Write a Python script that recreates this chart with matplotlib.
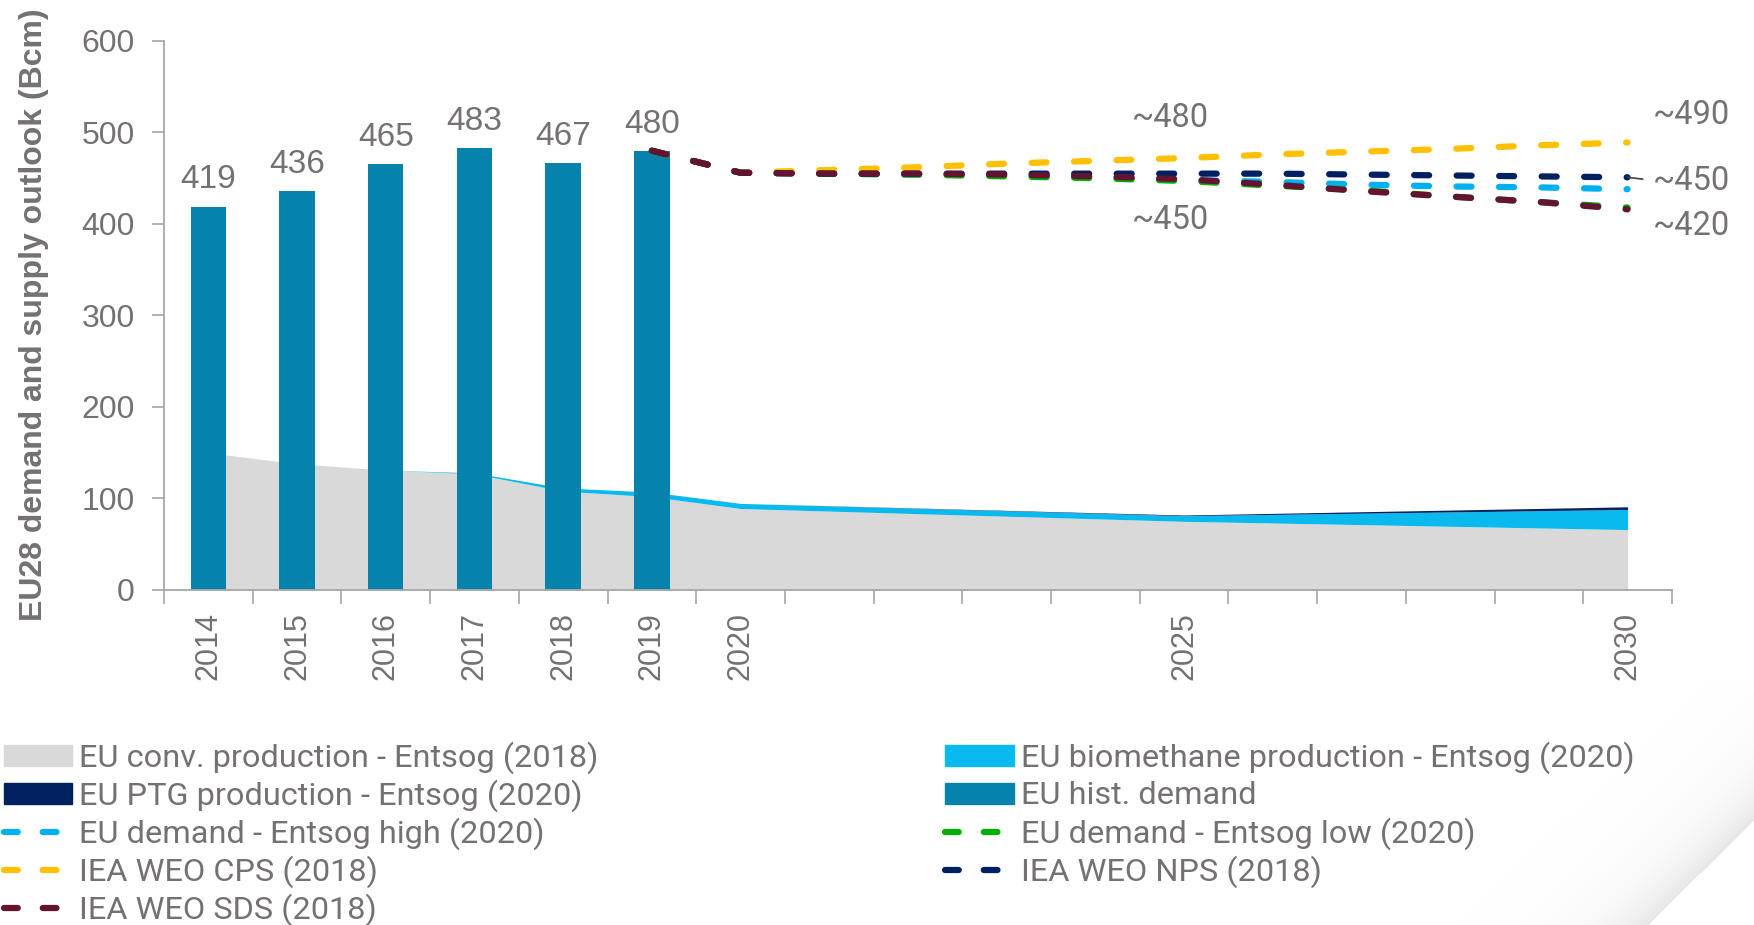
import numpy as np
import matplotlib
matplotlib.use("Agg")
import matplotlib.pyplot as plt
from matplotlib.patches import Patch
from matplotlib.lines import Line2D

# categories on the x axis
years = list(range(2014, 2031))
shown_years = [2014, 2015, 2016, 2017, 2018, 2019, 2020, 2025, 2030]

# historic demand (Bcm)
hist_years = [2014, 2015, 2016, 2017, 2018, 2019]
hist_demand = [419, 436, 465, 483, 467, 480]

# supply side (stacked areas)
prod_years = [2014, 2015, 2016, 2017, 2018, 2019, 2020, 2025, 2030]
conv_prod = [150, 138, 131, 127, 108, 102, 89, 75, 66]
biomethane = [0, 0, 0, 1, 3.5, 5, 5.6, 6.2, 22]
ptg = [0, 0, 0, 0, 0, 0, 0, 0.7, 2.9]

# demand outlooks
out_years = list(range(2019, 2031))
entsog_high = [480, 456, 455, 454, 453, 451, 448, 446, 443, 441, 440, 438]
entsog_low = [480, 456, 455, 454, 452, 450, 447, 442, 437, 430, 424, 418]
weo_cps = [480, 456, 459, 462, 466, 469, 472, 476, 479, 482, 486, 489]
weo_nps = [480, 456, 455, 455, 455, 455, 455, 455, 454, 453, 452, 451]
weo_sds = [480, 456, 455, 455, 454, 452, 449, 443, 436, 430, 424, 416]

TXT = "#767171"
AXC = "#A6A6A6"
C_BAR = "#0583AC"
C_CONV = "#D9D9D9"
C_BIO = "#0ABAEE"
C_PTG = "#002060"
C_HIGH = "#00B0F0"
C_LOW = "#00B000"
C_CPS = "#FFC000"
C_NPS = "#002060"
C_SDS = "#641432"


def xi(y):
    return [years.index(v) for v in y] if isinstance(y, list) else years.index(y)


fig = plt.figure(figsize=(17.54, 9.25), dpi=100)
ax = fig.add_axes([0.0935, 0.3622, 0.8597, 0.5935])

# stacked supply areas
px = xi(prod_years)
base = np.array(conv_prod, float)
top = base + np.array(biomethane)
ax.fill_between(px, 0, base, color=C_CONV, lw=0, zorder=1)
ax.fill_between(px, base, top, color=C_BIO, lw=0, zorder=1)
ax.fill_between(px, top, top + np.array(ptg), color=C_PTG, lw=0, zorder=1)

# historic demand bars
bx = xi(hist_years)
ax.bar(bx, hist_demand, width=0.4, color=C_BAR, zorder=2)
for x, v in zip(bx, hist_demand):
    ax.annotate(str(v), (x, v), xytext=(0, 8), textcoords="offset points",
                ha="center", va="bottom", fontsize=24, color=TXT,
                family="Liberation Sans")

# outlook lines
ox = xi(out_years)
dash = (2.4, 4.4)
lines = [(entsog_high, C_HIGH), (entsog_low, C_LOW), (weo_cps, C_CPS),
         (weo_nps, C_NPS), (weo_sds, C_SDS)]
for vals, c in lines:
    ax.plot(ox, vals, color=c, lw=4.5, dashes=dash, dash_capstyle="round",
            zorder=3)

# annotations
tf = dict(fontsize=23.5, color=TXT, family="Roboto", va="center")
ax.text(10.85, 516, "~480", ha="center", **tf)
ax.text(10.85, 404, "~450", ha="center", **tf)
ax.text(16.29, 519, "~490", ha="left", clip_on=False, **tf)
ax.text(16.29, 447, "~450", ha="left", clip_on=False, **tf)
ax.text(16.29, 398, "~420", ha="left", clip_on=False, **tf)
ax.plot([16, 16.17], [451, 449], color="#404040", lw=1.2, clip_on=False, zorder=4)

# axes styling
ax.set_xlim(-0.5, 16.5)
ax.set_ylim(0, 600)
ax.set_yticks(range(0, 601, 100))
ax.set_xticks(xi(shown_years))
ax.set_xticklabels([str(y) for y in shown_years], rotation=90)
ax.set_xticks(np.arange(-0.5, 17, 1), minor=True)
ax.tick_params(axis="x", which="major", length=0, pad=16, labelsize=22,
               labelcolor=TXT)
ax.tick_params(axis="x", which="minor", length=10, width=1.2, color=AXC,
               direction="out")
ax.tick_params(axis="y", length=9, width=1.2, color=AXC, labelsize=23,
               labelcolor=TXT, pad=12)
for lab in ax.get_xticklabels() + ax.get_yticklabels():
    lab.set_family("Liberation Sans")
for s in ["top", "right"]:
    ax.spines[s].set_visible(False)
for s in ["left", "bottom"]:
    ax.spines[s].set_color(AXC)
    ax.spines[s].set_linewidth(1.3)

fig.text(0.0195, 0.66, "EU28 demand and supply outlook (Bcm)", rotation=90,
         ha="center", va="center", fontsize=23, fontweight="bold",
         color=TXT, family="Liberation Sans")


# legend: two columns, one entry per row so the rows line up
def dline(c):
    return Line2D([], [], color=c, lw=4.5, dashes=(2.2, 4.0),
                  dash_capstyle="round")


left_items = [
    (Patch(color=C_CONV), "EU conv. production - Entsog (2018)"),
    (Patch(color=C_PTG), "EU PTG production - Entsog (2020)"),
    (dline(C_HIGH), "EU demand - Entsog high (2020)"),
    (dline(C_CPS), "IEA WEO CPS (2018)"),
    (dline(C_SDS), "IEA WEO SDS (2018)"),
]
right_items = [
    (Patch(color=C_BIO), "EU biomethane production - Entsog (2020)"),
    (Patch(color=C_BAR), "EU hist. demand"),
    (dline(C_LOW), "EU demand - Entsog low (2020)"),
    (dline(C_NPS), "IEA WEO NPS (2018)"),
]
row_y = [758, 796, 834, 872, 910]
lkw = dict(frameon=False, handlelength=2.1, handleheight=0.62,
           handletextpad=0.22, borderpad=0, borderaxespad=0,
           prop={"family": "Roboto", "size": 23.4}, labelcolor=TXT,
           loc="center left")
for col_x, items in [(0.002, left_items), (0.539, right_items)]:
    for (h, t), ry in zip(items, row_y):
        fig.legend([h], [t], bbox_to_anchor=(col_x, 1 - ry / 925), **lkw)

# soft page-curl shadow in the lower right corner
x0, x1, y0, y1 = 1450, 1754, 680, 925
sh = fig.add_axes([x0 / 1754, 0, (x1 - x0) / 1754, (y1 - y0) / 925])
sh.set_axis_off()
gx, gy = np.meshgrid(np.arange(x0, x1), np.arange(y0, y1))
p1 = np.array([1647.0, 925.0])
p2 = np.array([1754.0, 820.0])
u = (p2 - p1) / np.hypot(*(p2 - p1))
d = (gx - p1[0]) * u[1] - (gy - p1[1]) * u[0]
alpha = np.where(d > 0, 0.34 * np.exp(-d / 30.0), 0.0)
img = np.ones(gx.shape + (4,))
img[..., :3] = 0.72
img[..., 3] = alpha
sh.imshow(img, extent=(0, 1, 0, 1), origin="upper", aspect="auto")

fig.savefig("out.png", dpi=100)
